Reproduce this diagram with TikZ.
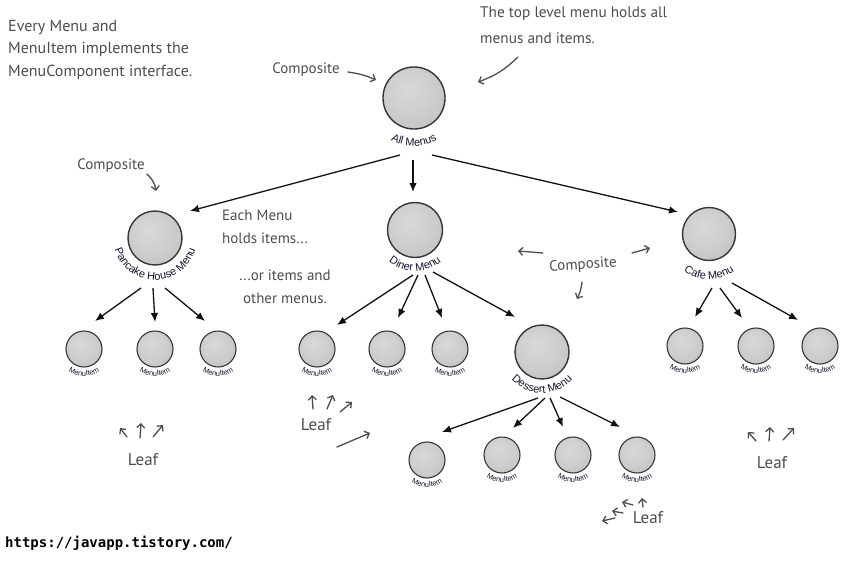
\documentclass[tikz,border=0pt]{standalone}
\usepackage{fontspec}
\setmainfont{PT Sans}
\newfontfamily\labelfont{Liberation Sans}
\newfontfamily\linkfont{DejaVu Sans Mono}
\usetikzlibrary{arrows.meta,calc,decorations.text}
\definecolor{ink}{HTML}{111111}
\definecolor{note}{HTML}{4D4D4D}
\definecolor{rim}{HTML}{363636}
\definecolor{lbl}{HTML}{15152E}
\pgfdeclareradialshading{ballshade}{\pgfpoint{-6bp}{8bp}}{color(0bp)=(gray!30); color(18bp)=(gray!38); color(36bp)=(gray!50); color(45bp)=(gray!64); color(50bp)=(gray!80)}
\newcommand\bigfont{\labelfont\fontsize{11}{12}\selectfont}
\newcommand\tinyfont{\labelfont\fontsize{7.4}{8}\selectfont}
% text bent round the lower side of a ball
\newcommand\arclabel[4]{%
  \path[decorate,decoration={text along path,text align=center,text color=lbl,
    text={|#3|#4}}]
    ($(#1)+(150:#2)$) arc[start angle=150,end angle=390,radius=#2];}
\tikzset{
  menu/.style={circle,draw=rim,line width=1.4pt,shading=ballshade,inner sep=0pt,minimum size=54pt},
  item/.style={menu,line width=1.1pt,minimum size=36pt},
  tree/.style={-{Latex[length=9pt,width=7.5pt]},line width=1.3pt,draw=ink},
  hand/.style={-{Straight Barb[length=4pt,width=8pt]},line width=1.3pt,draw=note,line cap=round},
  notetext/.style={text=note,font=\fontsize{15}{22.5}\selectfont,inner sep=0pt},
  leaf/.style={notetext,font=\fontsize{17}{20}\selectfont},
}
\begin{document}
\begin{tikzpicture}[x=1pt,y=1pt]
  \useasboundingbox (0,0) rectangle (867,-562);
  % composites
  \node[menu,minimum size=62pt] (all) at (414,-98) {};
  \node[menu] (pancake) at (155,-238) {};
  \node[menu,minimum size=55pt] (diner) at (415,-230) {};
  \node[menu,minimum size=53pt] (cafe) at (709,-234) {};
  \node[menu] (dessert) at (542,-352) {};
  % leaves
  \foreach \nm/\x/\y in {p1/84/349,p2/155/349,p3/218/349,
      dn1/317/349,dn2/387/349,dn3/450/349,
      ds1/427/460,ds2/502/455,ds3/573/455,ds4/637/455,
      c1/685/346,c2/756/346,c3/820/346}
    \node[item] (\nm) at (\x,-\y) {};
  % names round the balls
  \arclabel{all}{48}{\bigfont}{All Menus}
  \arclabel{pancake}{42}{\bigfont}{Pancake House Menu}
  \arclabel{diner}{41}{\bigfont}{Diner Menu}
  \arclabel{cafe}{45}{\bigfont}{Cafe Menu}
  \arclabel{dessert}{41}{\bigfont}{Dessert Menu}
  \foreach \nm in {p1,p2,p3,dn1,dn2,dn3,ds1,ds2,ds3,ds4,c1,c2,c3}
    {\arclabel{\nm}{27}{\tinyfont}{MenuItem}}
  % tree
  \draw[tree] ($(all)+(-14,-57)$) -- ($(pancake)+(35,27)$);
  \draw[tree] ($(all)+(-1,-62)$) -- ($(diner)+(-2,38)$);
  \draw[tree] ($(all)+(18,-57)$) -- ($(cafe)+(-31,22)$);
  \draw[tree] ($(pancake)+(-14,-50)$) -- ($(p1)+(11,28)$);
  \draw[tree] ($(pancake)+(-2,-50)$) -- ($(p2)+(0,27)$);
  \draw[tree] ($(pancake)+(10,-50)$) -- ($(p3)+(-13,28)$);
  \draw[tree] ($(diner)+(-2,-45)$) -- ($(dn1)+(20,24)$);
  \draw[tree] ($(diner)+(3,-45)$) -- ($(dn2)+(11,31)$);
  \draw[tree] ($(diner)+(10,-45)$) -- ($(dn3)+(-8,31)$);
  \draw[tree] ($(diner)+(18,-42)$) -- ($(dessert)+(-27,35)$);
  \draw[tree] ($(dessert)+(-4,-46)$) -- ($(ds1)+(15,28)$);
  \draw[tree] ($(dessert)+(3,-46)$) -- ($(ds2)+(11,27)$);
  \draw[tree] ($(dessert)+(8,-46)$) -- ($(ds3)+(-10,28)$);
  \draw[tree] ($(dessert)+(18,-45)$) -- ($(ds4)+(-17,28)$);
  \draw[tree] ($(cafe)+(3,-54)$) -- ($(c1)+(10,29)$);
  \draw[tree] ($(cafe)+(11,-54)$) -- ($(c2)+(-14,28)$);
  \draw[tree] ($(cafe)+(23,-49)$) -- ($(c3)+(-22,26)$);
  % notes
  \node[notetext,font=\fontsize{16}{22.5}\selectfont,align=left,anchor=north west] (every) at (8,-20)
    {Every Menu and\\MenuItem implements the\\MenuComponent interface.};
  \node[notetext,font=\fontsize{15.3}{26}\selectfont,align=left,anchor=north west] (toplvl) at (480,-7)
    {The top level menu holds all\\menus and items.};
  \node[notetext] (compa) at (306,-70) {Composite};
  \node[notetext] (compb) at (111,-166) {Composite};
  \node[notetext,rotate=4] (compc) at (583,-265) {Composite};
  \node[notetext,align=left,anchor=north west] (holds) at (222,-210) {Each Menu\\holds items...};
  \node[notetext,align=center] (other) at (285,-287) {...or items and\\other menus.};
  \node[leaf] (leafa) at (143,-460) {Leaf};
  \node[leaf] (leafb) at (316,-425) {Leaf};
  \node[leaf] (leafc) at (648,-518) {Leaf};
  \node[leaf] (leafd) at (772,-463) {Leaf};
  \node[font=\linkfont\bfseries\fontsize{14}{16}\selectfont,anchor=west,inner sep=0pt] (link) at (5,-543)
    {https://javapp.tistory.com/};
  % hand drawn pointers
  \draw[hand] ([xshift=8pt,yshift=-2pt]compa.east) to[bend left=8] (376,-80);
  \draw[hand] (518,-57) to[bend left=12] (478,-82);
  \draw[hand] ([xshift=2pt,yshift=-8pt]compb.east) to[bend left=20] (156,-191);
  \draw[hand] (543,-253) -- (518,-251);
  \draw[hand] (632,-253) -- (650,-248);
  \draw[hand] (582,-282) to[bend left=10] (577,-299);
  \foreach \a/\b/\c/\d in {127/437/120/428, 140/438/141/423, 153/437/163/425,
      313/409/312/395, 327/409/333/395, 340/412/352/402, 337/447/370/433,
      615/518/602/521, 623/513/612/511, 633/505/622/502, 643/507/642/498,
      756/441/748/432, 769/441/770/427, 783/440/794/428}
    \draw[hand] (\a,-\b) -- (\c,-\d);
\end{tikzpicture}
\end{document}
